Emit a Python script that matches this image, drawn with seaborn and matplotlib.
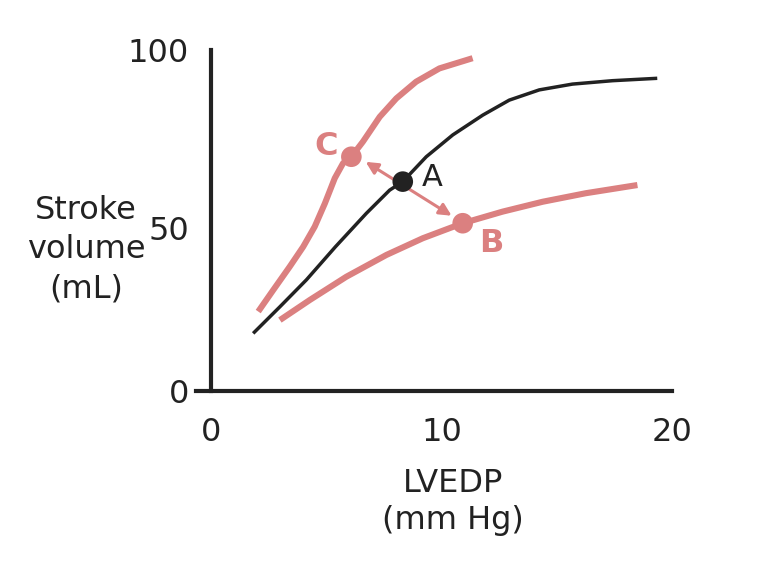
import matplotlib
matplotlib.use("Agg")
import matplotlib.pyplot as plt
import matplotlib.transforms as mtransforms
import seaborn as sns
import pandas as pd

# points (LVEDP mm Hg, stroke volume mL)
normal_x = [1.83, 2.99, 4.14, 5.40, 6.74, 7.75, 8.32, 9.34, 10.49, 11.79,
            12.94, 14.24, 15.68, 17.42, 19.36]
normal_y = [16.9, 24.7, 32.6, 42.3, 52.1, 58.9, 61.4, 68.7, 75.1, 80.9,
            85.3, 88.3, 90.0, 91.0, 91.7]

upper_x = [2.05, 2.70, 3.42, 4.00, 4.50, 4.94, 5.37, 5.73, 6.09, 6.59,
           7.32, 8.04, 8.90, 9.91, 11.35]
upper_y = [23.3, 29.6, 36.5, 42.3, 48.2, 55.0, 62.4, 66.8, 68.7, 73.1,
           80.4, 85.8, 90.7, 94.6, 97.6]

lower_x = [2.99, 4.29, 5.87, 7.61, 9.19, 10.92, 12.65, 14.39, 16.26, 18.5]
lower_y = [20.8, 26.7, 33.5, 39.9, 44.8, 49.2, 52.6, 55.5, 58.0, 60.4]

point_names = ["A", "B", "C"]
point_x = [8.32, 10.92, 6.09]
point_y = [61.4, 49.2, 68.7]

x_ticks = [0, 10, 20]
y_ticks = [0, 50, 100]

pink = "#db8080"
dark = "#222222"

sns.set_style("white")
plt.rcParams["font.family"] = ["DejaVu Sans"]

fig = plt.figure(figsize=(7.68, 5.76), dpi=100)
ax = fig.add_axes([196 / 768, 185 / 576, 476 / 768, 341 / 576])

curves = [(normal_x, normal_y, dark, 2.5),
          (upper_x, upper_y, pink, 4.4),
          (lower_x, lower_y, pink, 4.4)]
for xs, ys, col, lw in curves:
    df = pd.DataFrame({"x": xs, "y": ys})
    sns.lineplot(data=df, x="x", y="y", ax=ax, color=col, linewidth=lw,
                 sort=False, estimator=None, solid_capstyle="butt",
                 solid_joinstyle="round")

pts = pd.DataFrame({"name": point_names, "x": point_x, "y": point_y})
sns.scatterplot(data=pts, x="x", y="y", hue="name",
                palette={"A": dark, "B": pink, "C": pink},
                s=220, linewidth=0, legend=False, ax=ax, zorder=5)

# double headed arrow between C and B
ax.annotate("", xy=(10.44, 51.4), xytext=(6.71, 67.2),
            arrowprops=dict(arrowstyle="<|-|>", color=pink, lw=2.2,
                            mutation_scale=18, shrinkA=0, shrinkB=0))

ax.text(9.61, 62.6, "A", fontsize=22, color=dark, ha="center", va="center")
ax.text(12.15, 43.3, "B", fontsize=23, color=pink, fontweight="bold",
        ha="center", va="center")
ax.text(4.98, 71.6, "C", fontsize=23, color=pink, fontweight="bold",
        ha="center", va="center")

ax.set_xlim(-0.65, 20)
ax.set_ylim(0, 100)
ax.set_xticks(x_ticks)
ax.set_yticks(y_ticks)
ax.set_xlabel("")
ax.set_ylabel("")

for side in ["top", "right"]:
    ax.spines[side].set_visible(False)
ax.spines["left"].set_position(("data", 0))
for side in ["left", "bottom"]:
    ax.spines[side].set_linewidth(3)
    ax.spines[side].set_color(dark)

ax.tick_params(axis="x", direction="out", length=9, width=3, color=dark,
               pad=10, labelsize=23, labelcolor=dark)
ax.tick_params(axis="y", length=0, pad=16, labelsize=23, labelcolor=dark)

# the "50" label sits a little below its grid line in the reference
offset = mtransforms.ScaledTranslation(0, -7 / 100, fig.dpi_scale_trans)
lab = ax.get_yticklabels()[1]
lab.set_transform(lab.get_transform() + offset)

fig.text(86 / 768, 1 - 250 / 576, "Stroke\nvolume\n(mL)", fontsize=23,
         color=dark, ha="center", va="center", linespacing=1.35)
fig.text(453 / 768, 1 - 502 / 576, "LVEDP\n(mm Hg)", fontsize=23,
         color=dark, ha="center", va="center", linespacing=1.25)

fig.savefig("out.png", dpi=100, facecolor="white")
